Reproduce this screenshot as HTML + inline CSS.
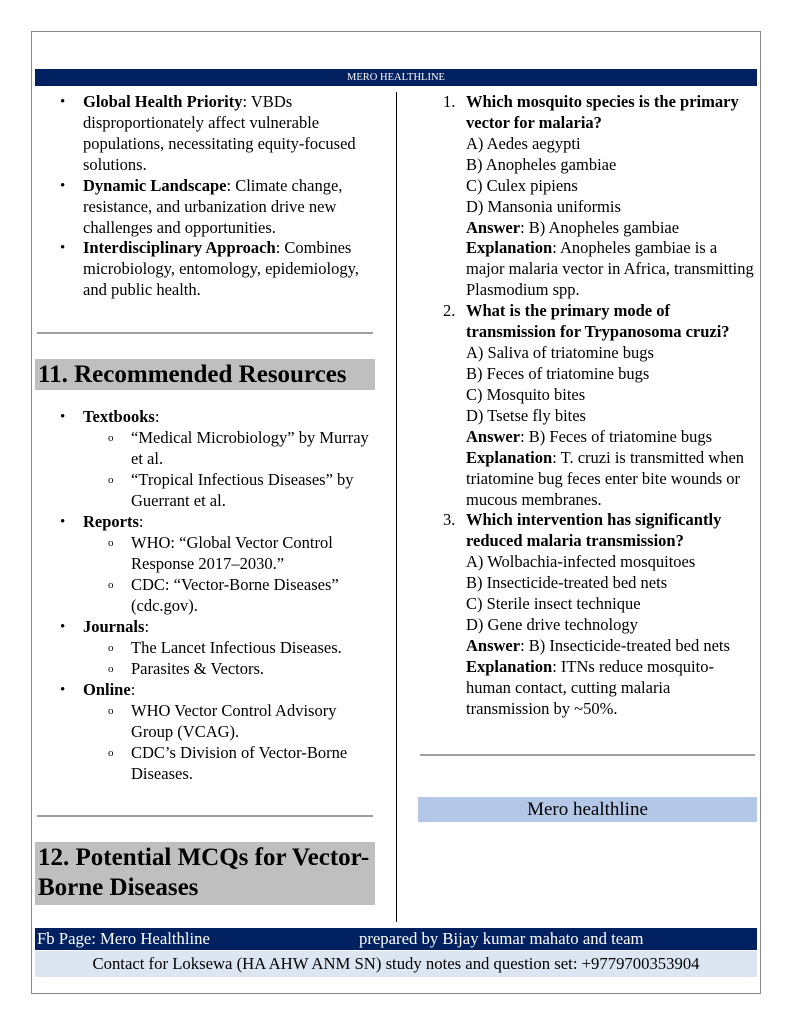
<!DOCTYPE html>
<html><head><meta charset="utf-8"><style>
body{margin:0;width:791px;height:1024px;position:relative;background:#fff;font-family:"Liberation Serif",serif;color:#000;overflow:hidden}
.l{position:absolute;font-size:16.5px;line-height:20px;white-space:nowrap}
.b{position:absolute;font-size:15px;line-height:20px}
.abs{position:absolute}
</style></head><body>
<div class="abs" style="left:31px;top:31px;width:728px;height:961px;border:1px solid #888"></div>
<div class="abs" style="left:35px;top:69px;width:722px;height:17px;background:#002060;color:#fff;font-size:10.5px;line-height:17px;text-align:center">MERO HEALTHLINE</div>
<div class="abs" style="left:396px;top:92px;width:1px;height:830px;background:#000"></div>

<div class="b" style="left:60px;top:92px">•</div><div class="l" style="left:83px;top:92px"><b>Global Health Priority</b>: VBDs</div>
<div class="l" style="left:83px;top:113px">disproportionately affect vulnerable</div>
<div class="l" style="left:83px;top:134px">populations, necessitating equity-focused</div>
<div class="l" style="left:83px;top:155px">solutions.</div>
<div class="b" style="left:60px;top:176px">•</div><div class="l" style="left:83px;top:176px"><b>Dynamic Landscape</b>: Climate change,</div>
<div class="l" style="left:83px;top:197px">resistance, and urbanization drive new</div>
<div class="l" style="left:83px;top:218px">challenges and opportunities.</div>
<div class="b" style="left:60px;top:238px">•</div><div class="l" style="left:83px;top:238px"><b>Interdisciplinary Approach</b>: Combines</div>
<div class="l" style="left:83px;top:259px">microbiology, entomology, epidemiology,</div>
<div class="l" style="left:83px;top:280px">and public health.</div>

<div class="abs" style="left:37px;top:332px;width:336px;height:2px;background:#a0a0a0"></div>
<div class="abs" style="left:35px;top:359px;width:340px;height:31px;background:#bfbfbf;font-weight:bold;font-size:25px;line-height:31px;padding-left:3px;box-sizing:border-box">11. Recommended Resources</div>

<div class="b" style="left:60px;top:407px">•</div><div class="l" style="left:83px;top:407px"><b>Textbooks</b>:</div>
<div class="b" style="left:108px;top:428px;font-size:11px">o</div><div class="l" style="left:131px;top:428px">“Medical Microbiology” by Murray</div>
<div class="l" style="left:131px;top:449px">et al.</div>
<div class="b" style="left:108px;top:470px;font-size:11px">o</div><div class="l" style="left:131px;top:470px">“Tropical Infectious Diseases” by</div>
<div class="l" style="left:131px;top:491px">Guerrant et al.</div>
<div class="b" style="left:60px;top:512px">•</div><div class="l" style="left:83px;top:512px"><b>Reports</b>:</div>
<div class="b" style="left:108px;top:533px;font-size:11px">o</div><div class="l" style="left:131px;top:533px">WHO: “Global Vector Control</div>
<div class="l" style="left:131px;top:554px">Response 2017–2030.”</div>
<div class="b" style="left:108px;top:575px;font-size:11px">o</div><div class="l" style="left:131px;top:575px">CDC: “Vector-Borne Diseases”</div>
<div class="l" style="left:131px;top:596px">(cdc.gov).</div>
<div class="b" style="left:60px;top:617px">•</div><div class="l" style="left:83px;top:617px"><b>Journals</b>:</div>
<div class="b" style="left:108px;top:638px;font-size:11px">o</div><div class="l" style="left:131px;top:638px">The Lancet Infectious Diseases.</div>
<div class="b" style="left:108px;top:659px;font-size:11px">o</div><div class="l" style="left:131px;top:659px">Parasites &amp; Vectors.</div>
<div class="b" style="left:60px;top:680px">•</div><div class="l" style="left:83px;top:680px"><b>Online</b>:</div>
<div class="b" style="left:108px;top:701px;font-size:11px">o</div><div class="l" style="left:131px;top:701px">WHO Vector Control Advisory</div>
<div class="l" style="left:131px;top:722px">Group (VCAG).</div>
<div class="b" style="left:108px;top:743px;font-size:11px">o</div><div class="l" style="left:131px;top:743px">CDC’s Division of Vector-Borne</div>
<div class="l" style="left:131px;top:764px">Diseases.</div>

<div class="abs" style="left:37px;top:815px;width:336px;height:2px;background:#a0a0a0"></div>
<div class="abs" style="left:35px;top:842px;width:340px;height:63px;background:#bfbfbf;font-weight:bold;font-size:25px;line-height:30px;padding:1px 0 0 3px;box-sizing:border-box;white-space:nowrap">12. Potential MCQs for Vector-<br>Borne Diseases</div>

<div class="l" style="left:443px;top:92px">1.</div><div class="l" style="left:466px;top:92px"><b>Which mosquito species is the primary</b></div>
<div class="l" style="left:466px;top:113px"><b>vector for malaria?</b></div>
<div class="l" style="left:466px;top:134px">A) Aedes aegypti</div>
<div class="l" style="left:466px;top:155px">B) Anopheles gambiae</div>
<div class="l" style="left:466px;top:176px">C) Culex pipiens</div>
<div class="l" style="left:466px;top:197px">D) Mansonia uniformis</div>
<div class="l" style="left:466px;top:218px"><b>Answer</b>: B) Anopheles gambiae</div>
<div class="l" style="left:466px;top:238px"><b>Explanation</b>: Anopheles gambiae is a</div>
<div class="l" style="left:466px;top:259px">major malaria vector in Africa, transmitting</div>
<div class="l" style="left:466px;top:280px">Plasmodium spp.</div>
<div class="l" style="left:443px;top:301px">2.</div><div class="l" style="left:466px;top:301px"><b>What is the primary mode of</b></div>
<div class="l" style="left:466px;top:322px"><b>transmission for Trypanosoma cruzi?</b></div>
<div class="l" style="left:466px;top:343px">A) Saliva of triatomine bugs</div>
<div class="l" style="left:466px;top:364px">B) Feces of triatomine bugs</div>
<div class="l" style="left:466px;top:385px">C) Mosquito bites</div>
<div class="l" style="left:466px;top:406px">D) Tsetse fly bites</div>
<div class="l" style="left:466px;top:427px"><b>Answer</b>: B) Feces of triatomine bugs</div>
<div class="l" style="left:466px;top:448px"><b>Explanation</b>: T. cruzi is transmitted when</div>
<div class="l" style="left:466px;top:469px">triatomine bug feces enter bite wounds or</div>
<div class="l" style="left:466px;top:490px">mucous membranes.</div>
<div class="l" style="left:443px;top:510px">3.</div><div class="l" style="left:466px;top:510px"><b>Which intervention has significantly</b></div>
<div class="l" style="left:466px;top:531px"><b>reduced malaria transmission?</b></div>
<div class="l" style="left:466px;top:552px">A) Wolbachia-infected mosquitoes</div>
<div class="l" style="left:466px;top:573px">B) Insecticide-treated bed nets</div>
<div class="l" style="left:466px;top:594px">C) Sterile insect technique</div>
<div class="l" style="left:466px;top:615px">D) Gene drive technology</div>
<div class="l" style="left:466px;top:636px"><b>Answer</b>: B) Insecticide-treated bed nets</div>
<div class="l" style="left:466px;top:657px"><b>Explanation</b>: ITNs reduce mosquito-</div>
<div class="l" style="left:466px;top:678px">human contact, cutting malaria</div>
<div class="l" style="left:466px;top:699px">transmission by ~50%.</div>

<div class="abs" style="left:420px;top:754px;width:335px;height:2px;background:#a0a0a0"></div>
<div class="abs" style="left:418px;top:797px;width:339px;height:25px;background:#b4c7e7;font-size:19px;line-height:25px;text-align:center">Mero healthline</div>

<div class="abs" style="left:35px;top:928px;width:722px;height:22px;background:#002060;color:#fff;font-size:16.7px;line-height:22px;white-space:nowrap">
<span class="abs" style="left:2px;top:0">Fb Page: Mero Healthline</span>
<span class="abs" style="left:324px;top:0">prepared by Bijay kumar mahato and team</span></div>
<div class="abs" style="left:35px;top:951px;width:722px;height:26px;background:#dce6f2;font-size:16.7px;line-height:26px;text-align:center;white-space:nowrap">Contact for Loksewa (HA AHW ANM SN) study notes and question set: +9779700353904</div>
</body></html>
